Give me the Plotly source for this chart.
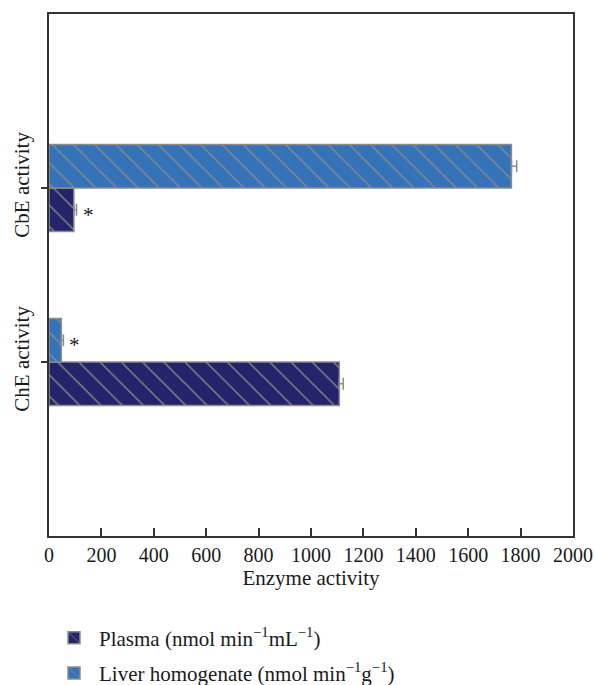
import plotly.graph_objects as go

categories = ["ChE activity", "CbE activity"]
plasma_values = [1108, 95]
plasma_errors = [15, 10]
liver_values = [47, 1765]
liver_errors = [8, 20]
series_names = ["Plasma (nmol min<sup>−1</sup>mL<sup>−1</sup>)",
                "Liver homogenate (nmol min<sup>−1</sup>g<sup>−1</sup>)"]
x_ticks = [0, 200, 400, 600, 800, 1000, 1200, 1400, 1600, 1800, 2000]
significant = [("plasma", 1), ("liver", 0)]

FONT = "Liberation Serif"
TXT = "#1a1a1a"
fig = go.Figure()

def bar(name, vals, errs, color, group):
    return go.Bar(
        name=name, y=categories, x=vals, orientation="h", legendgroup=group,
        marker=dict(color=color,
                    line=dict(color="#8c8c8c", width=1.5),
                    pattern=dict(shape="\\", fgcolor="#8a8a8a", bgcolor=color,
                                 size=15, solidity=0.09, fillmode="replace")),
        error_x=dict(type="data", array=errs, arrayminus=[0] * len(errs),
                     symmetric=False, color="#8c8c8c", thickness=1.5, width=6),
    )

fig.add_trace(bar(series_names[0], plasma_values, plasma_errors, "#24246b", "p"))
fig.add_trace(bar(series_names[1], liver_values, liver_errors, "#3573b9", "l"))

for series, idx in significant:
    if series == "plasma":
        xv = plasma_values[idx] + plasma_errors[idx]
        ys = -22
    else:
        xv = liver_values[idx] + liver_errors[idx]
        ys = 22
    fig.add_annotation(x=xv, y=categories[idx], text="*", showarrow=False,
                       xanchor="left", xshift=4, yshift=ys - 5,
                       font=dict(family=FONT, size=21, color=TXT))

fig.update_layout(
    width=595, height=685,
    margin=dict(l=49, r=22, t=14, b=149),
    paper_bgcolor="white", plot_bgcolor="white",
    barmode="group", bargap=0.5, bargroupgap=0,
    font=dict(family=FONT, size=20, color=TXT),
    showlegend=True,
    legend=dict(x=0.0, xref="paper", y=1 - 655.5 / 685, yref="container",
                xanchor="left", yanchor="middle",
                traceorder="grouped", font=dict(family=FONT, size=21, color=TXT),
                tracegroupgap=5, itemwidth=40, bgcolor="rgba(0,0,0,0)"),
)
fig.update_xaxes(range=[0, 2000], tickvals=x_ticks, ticks="inside", ticklen=8,
                 tickwidth=1.5, tickcolor="#333", showline=True, linecolor="#333",
                 linewidth=1.5, mirror=True, showgrid=False, zeroline=False,
                 automargin=False,
                 title=dict(text="Enzyme activity", font=dict(size=21), standoff=6),
                 tickfont=dict(size=20))
fig.update_yaxes(range=[-1, 2], ticks="outside", ticklen=6, tickwidth=1.5,
                 tickcolor="#333", showline=True, linecolor="#333", linewidth=1.5,
                 mirror=True, showgrid=False, tickangle=-90, automargin=False,
                 ticklabelstandoff=4, tickfont=dict(size=21))

fig.write_html("out.html", config={"displayModeBar": False},
               post_script="document.body.style.margin='0';"
                           "document.body.style.overflow='hidden';")
